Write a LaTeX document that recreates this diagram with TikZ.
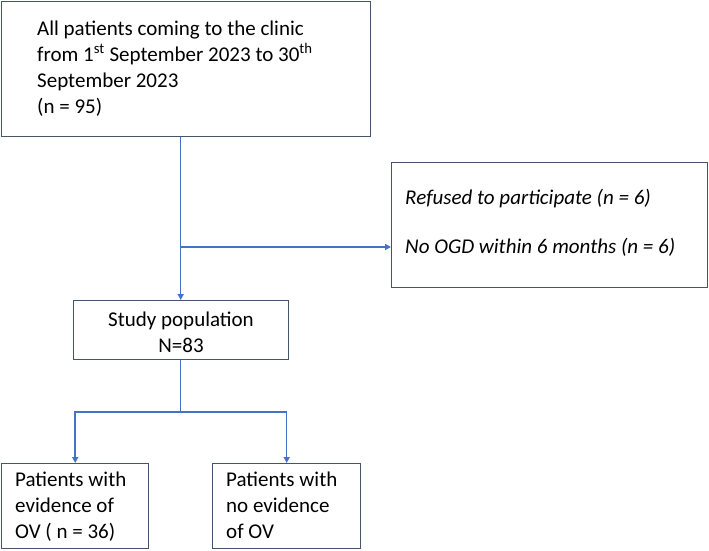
\documentclass[tikz,border=0pt]{standalone}
\usepackage{fontspec}
\setmainfont{Carlito}
\usetikzlibrary{arrows.meta,calc}
\definecolor{boxline}{RGB}{68,84,106}
\definecolor{conn}{RGB}{68,114,196}
\tikzset{
  flowbox/.style={draw=boxline, line width=1.4pt, fill=white, rectangle, inner sep=0pt, anchor=north west},
  txt/.style={inner sep=0pt, anchor=base west, align=left, font=\fontsize{21}{26}\selectfont},
  ctxt/.style={inner sep=0pt, anchor=base, align=center, font=\fontsize{21}{26}\selectfont},
  conline/.style={draw=conn, line width=1.5pt},
  conarrow/.style={conline, -{Triangle[length=6pt,width=6pt]}}
}
\begin{document}
\begin{tikzpicture}[x=1pt,y=-1pt]
\useasboundingbox (0,0) rectangle (709,550);
\fill[white] (0,0) rectangle (709,550);
% boxes
\node[flowbox, minimum width=369pt, minimum height=135pt] (top) at (1,1) {};
\node[flowbox, minimum width=316pt, minimum height=125pt] (excl) at (391,162) {};
\node[flowbox, minimum width=215pt, minimum height=59pt] (study) at (72.5,300) {};
\node[flowbox, minimum width=147pt, minimum height=85pt] (bl) at (1,463) {};
\node[flowbox, minimum width=148pt, minimum height=85pt] (br) at (212,463) {};
% texts (base anchor = baseline of the last line)
\node[txt] (toptext) at (37,113) {All patients coming to the clinic\\from 1\textsuperscript{st} September 2023 to 30\textsuperscript{th}\\September 2023\\(n = 95)};
\node[txt, font=\fontsize{21}{26}\selectfont\itshape] (excla) at (405,204) {Refused to participate (n = 6)};
\node[txt, font=\fontsize{21}{26}\selectfont\itshape] (exclb) at (405,253) {No OGD within 6 months (n = 6)};
\node[ctxt] (studytext) at (181,352) {Study population\\N=83};
\node[txt] (bltext) at (15,538) {Patients with\\evidence of\\OV ( n = 36)};
\node[txt] (brtext) at (226,538) {Patients with\\no evidence\\of OV};
% connectors
\draw[conarrow] (top.south -| study.north) -- (study.north);
\coordinate (br1) at (study.north |- 0,247);
\draw[conarrow] (br1) -- (br1 -| excl.west);
\coordinate (split) at (study.south |- 0,412);
\draw[conline] (study.south) -- (split);
\draw[conarrow] (split) -| (bl.north);
\draw[conarrow] (split) -| (br.north);
\end{tikzpicture}
\end{document}
